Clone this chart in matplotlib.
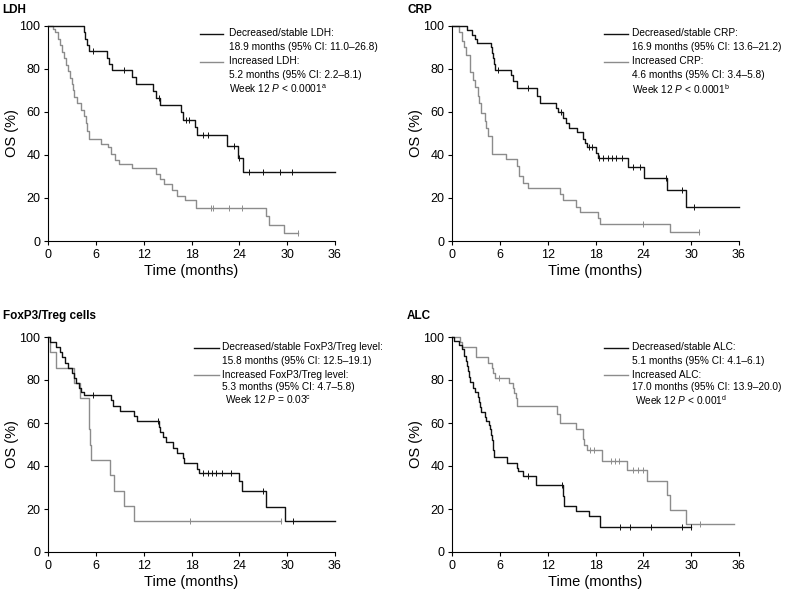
import numpy as np
import matplotlib.pyplot as plt

plt.rcParams['font.family'] = ['Liberation Sans', 'DejaVu Sans']
plt.rcParams['mathtext.fontset'] = 'custom'
plt.rcParams['mathtext.rm'] = 'Liberation Sans'
plt.rcParams['mathtext.it'] = 'Liberation Sans:italic'

BLACK = '#111111'
GREY = '#8c8c8c'

# LDH, decreased/stable
ldh_dec_t = [4.5, 4.7, 4.9, 5.1, 5.3, 7.4, 7.7, 8.0, 10.5, 11.0, 13.2, 13.6, 14.1,
             16.7, 16.9, 18.4, 18.7, 22.4, 23.8, 24.5]
ldh_dec_s = [97.1, 94.1, 91.2, 88.2, 88.2, 85.3, 82.4, 79.4, 76.2, 73.0, 69.8, 66.5, 63.3,
             59.9, 56.5, 52.9, 49.2, 44.3, 38.5, 32.3]
ldh_dec_c = [5.7, 9.5, 13.9, 17.3, 17.7, 19.5, 20.1, 23.3, 23.9, 25.2, 27.0, 29.1, 30.6]
ldh_dec_end = 36
# LDH, increased
ldh_inc_t = [0.6, 0.9, 1.3, 1.5, 1.7, 2.0, 2.3, 2.5, 2.8, 3.0, 3.1, 3.3, 3.6, 4.2, 4.5,
             4.8, 4.9, 5.15, 6.7, 7.5, 7.9, 8.4, 8.9, 10.5, 13.6, 14.0, 14.6, 15.6, 16.2,
             17.2, 18.6, 27.3, 27.7, 29.6]
ldh_inc_s = [98.5, 97, 94, 91, 88, 85, 82, 79, 76, 73, 70, 67, 64, 61, 58,
             55, 51, 47.5, 45, 43.5, 40.5, 37.5, 36, 34, 31, 29, 26.3, 23.5, 21,
             19, 15.2, 11.4, 7.6, 3.8]
ldh_inc_c = [20.5, 20.7, 22.7, 24.3, 31.3]
ldh_inc_end = 31.3

# CRP, decreased/stable
crp_dec_t = [1.9, 2.5, 2.85, 3.1, 4.85, 5.0, 5.2, 5.3, 5.45, 7.45, 7.65, 8.1, 10.6, 11.1,
             13.1, 13.3, 13.9, 14.3, 14.65, 15.7, 16.45, 16.65, 16.9, 18.1, 18.3, 22.1,
             24.1, 27.0, 29.3]
crp_dec_s = [98, 96, 94, 92, 90, 87.5, 85, 82.5, 79.5, 77, 74.5, 71, 67.5, 64.3,
             62, 60, 57, 55, 52.5, 50.5, 47.5, 45.5, 43.8, 41, 38.5, 34.5,
             29.5, 23.8, 15.8]
crp_dec_c = [5.8, 9.5, 13.7, 17.2, 17.6, 18.4, 19.0, 19.6, 20.1, 20.6, 21.3, 22.7, 23.6,
             26.9, 28.8, 30.3]
crp_dec_end = 36
# CRP, increased
crp_inc_t = [0.85, 1.2, 1.5, 1.8, 2.2, 2.65, 2.85, 3.2, 3.4, 3.6, 4.1, 4.3, 4.5, 5.0,
             6.8, 8.1, 8.4, 8.9, 9.5, 13.6, 13.9, 15.6, 16.0, 18.3, 18.6, 27.4]
crp_inc_s = [97, 93, 90, 86.5, 78.5, 75, 71.5, 67.5, 64, 59.5, 56, 52.5, 49, 40.5,
             38, 35, 30, 27, 24.5, 22, 19, 16, 13.3, 10.6, 8, 4]
crp_inc_c = [24.0, 31.0]
crp_inc_end = 31.0

# FoxP3/Treg, decreased/stable
fox_dec_t = [0.3, 1.0, 1.5, 1.8, 2.1, 2.5, 3.0, 3.2, 3.5, 3.9, 4.2, 4.5, 7.9, 8.2, 9.0,
             10.8, 11.2, 13.9, 14.1, 14.4, 14.8, 15.7, 16.2, 16.9, 17.1, 18.7, 18.9,
             23.9, 24.3, 27.4, 29.7]
fox_dec_s = [97.6, 95.2, 92.9, 90.5, 88.1, 85.7, 83.3, 81.0, 78.6, 76.2, 74.5, 73.2, 70.5, 68, 65.6,
             63.2, 61, 58.3, 55.8, 53.4, 51, 48.6, 46.1, 43.7, 41.3, 38.8, 36.6,
             33, 28.2, 21.1, 14.3]
fox_dec_c = [5.7, 13.85, 19.5, 20.1, 20.6, 21.1, 21.8, 22.9, 27.0, 30.7]
fox_dec_end = 36
# FoxP3/Treg, increased
fox_inc_t = [0.2, 1.0, 3.3, 4.0, 5.1, 5.3, 5.45, 7.8, 8.3, 9.5, 10.8]
fox_inc_s = [92.9, 85.7, 78.6, 71.4, 57.1, 50.0, 42.9, 35.7, 28.6, 21.4, 14.3]
fox_inc_c = [17.8, 29.2]
fox_inc_end = 29.2

# ALC, decreased/stable
alc_dec_t = [0.3, 0.9, 1.2, 1.5, 1.7, 1.9, 2.0, 2.1, 2.3, 2.6, 2.9, 3.3, 3.4, 3.5, 3.6,
             4.1, 4.3, 4.6, 4.8, 4.9, 5.0, 5.1, 5.2, 5.3, 6.9, 8.1, 8.3, 8.9, 10.5,
             13.9, 14.1, 15.6, 17.2, 18.6]
alc_dec_s = [98, 96.5, 94.5, 91, 89, 86.5, 84, 81.5, 79, 76.5, 74.5, 72, 70, 67.5, 65,
             63, 61, 59, 57, 54.5, 52, 50, 47.5, 44, 41.5, 39.2, 37.5, 35.5, 31,
             26, 21.5, 19, 16.8, 11.8]
alc_dec_c = [9.5, 13.8, 21.1, 22.3, 25.0, 28.9, 30.0]
alc_dec_end = 30.0
# ALC, increased
alc_inc_t = [1.0, 1.2, 3.05, 4.5, 5.0, 5.2, 5.4, 7.2, 7.6, 7.8, 8.0, 8.2, 13.2, 13.6,
             15.5, 16.4, 16.6, 16.9, 18.8, 22.0, 24.4, 27.0, 27.3, 29.4]
alc_inc_s = [97.6, 95.2, 90.5, 88.1, 85.7, 83.3, 80.9, 78.6, 76.2, 73.8, 71.4, 68.0, 64.3, 60.0,
             57.3, 52.5, 50.0, 47.6, 42.1, 38.2, 32.9, 26.3, 19.7, 13.1]
alc_inc_c = [5.9, 17.3, 17.8, 20.0, 20.5, 21.0, 22.7, 23.3, 23.9, 31.1]
alc_inc_end = 35.4

titles = ['LDH', 'CRP', 'FoxP3/Treg cells', 'ALC']
legend_lines = [
    ['Decreased/stable LDH:', '18.9 months (95% CI: 11.0\u201326.8)',
     'Increased LDH:', '5.2 months (95% CI: 2.2\u20138.1)',
     r'Week 12 $P$ < 0.0001$^{\mathrm{a}}$'],
    ['Decreased/stable CRP:', '16.9 months (95% CI: 13.6\u201321.2)',
     'Increased CRP:', '4.6 months (95% CI: 3.4\u20135.8)',
     r'Week 12 $P$ < 0.0001$^{\mathrm{b}}$'],
    ['Decreased/stable FoxP3/Treg level:', '15.8 months (95% CI: 12.5\u201319.1)',
     'Increased FoxP3/Treg level:', '5.3 months (95% CI: 4.7\u20135.8)',
     r'Week 12 $P$ = 0.03$^{\mathrm{c}}$'],
    ['Decreased/stable ALC:', '5.1 months (95% CI: 4.1\u20136.1)',
     'Increased ALC:', '17.0 months (95% CI: 13.9\u201320.0)',
     r'Week 12 $P$ < 0.001$^{\mathrm{d}}$'],
]
curves = [
    [(ldh_dec_t, ldh_dec_s, ldh_dec_c, ldh_dec_end), (ldh_inc_t, ldh_inc_s, ldh_inc_c, ldh_inc_end)],
    [(crp_dec_t, crp_dec_s, crp_dec_c, crp_dec_end), (crp_inc_t, crp_inc_s, crp_inc_c, crp_inc_end)],
    [(fox_dec_t, fox_dec_s, fox_dec_c, fox_dec_end), (fox_inc_t, fox_inc_s, fox_inc_c, fox_inc_end)],
    [(alc_dec_t, alc_dec_s, alc_dec_c, alc_dec_end), (alc_inc_t, alc_inc_s, alc_inc_c, alc_inc_end)],
]

W, H = 787, 593
fig = plt.figure(figsize=(W / 100, H / 100), dpi=100)

# panel layout in pixels: axes left, axes top, title x, title y
panels = [(48, 26, 2, 10), (452, 26, 407, 10), (48, 337, 3, 316), (452, 337, 407, 316)]
leg_x = [(200, 223, 229), (604, 628, 632), (194, 219, 222), (604, 628, 632)]
leg_dy = [[7.5, 20.5, 35.5, 49, 63], [7.5, 20.5, 35.5, 49, 63],
          [10.5, 23.5, 38, 50.5, 63], [10.5, 23.5, 38, 50.5, 63]]


def fx(px):
    return px / W


def fy(py):
    return 1 - py / H


def km(ax, t, s, cens, end, color):
    t = np.asarray(t)
    s = np.asarray(s)
    ax.step(np.r_[0, t, end], np.r_[100, s, s[-1]], where='post',
            color=color, lw=1.0, clip_on=False)
    idx = np.searchsorted(t, cens, side='right')
    ax.plot(cens, np.r_[100, s][idx], '|', color=color, ms=4, mew=0.7, clip_on=False)


for i in range(4):
    x0, top, tx, ty = panels[i]
    ax = fig.add_axes([fx(x0), fy(top + 215), 287 / W, 215 / H])
    dec, inc = curves[i]
    km(ax, *inc, GREY)
    km(ax, *dec, BLACK)
    ax.set_xlim(0, 36)
    ax.set_ylim(0, 100)
    ax.set_xticks(range(0, 37, 6))
    ax.set_yticks(range(0, 101, 20))
    for side in ['top', 'right']:
        ax.spines[side].set_visible(False)
    for side in ['left', 'bottom']:
        ax.spines[side].set_linewidth(0.8)
    ax.tick_params(direction='out', length=3, width=0.8, pad=2.5, labelsize=9)
    ax.set_xlabel('Time (months)', fontsize=10.5, labelpad=2.5)
    ax.set_ylabel('OS (%)', fontsize=10.5, labelpad=0)

    fig.text(fx(tx), fy(ty), titles[i], fontsize=8.5, weight='bold', va='center')

    lx0, lx1, txt_x = leg_x[i]
    dys = leg_dy[i]
    texts = legend_lines[i]
    fig.add_artist(plt.Line2D([fx(lx0), fx(lx1)], [fy(top + dys[0])] * 2,
                              color=BLACK, lw=1.0, transform=fig.transFigure))
    fig.add_artist(plt.Line2D([fx(lx0), fx(lx1)], [fy(top + dys[2])] * 2,
                              color=GREY, lw=1.0, transform=fig.transFigure))
    for j, txt in enumerate(texts):
        xx = txt_x + (3 if (j == 4 and i >= 2) else 0)
        fig.text(fx(xx), fy(top + dys[j]), txt, fontsize=7.3, va='center')

fig.savefig('out.png', dpi=100)
